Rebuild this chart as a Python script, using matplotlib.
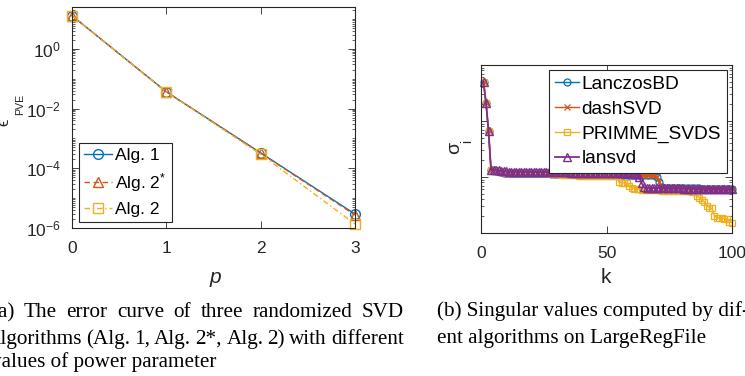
import numpy as np
import matplotlib
matplotlib.use("Agg")
import matplotlib.pyplot as plt
from matplotlib.ticker import LogLocator, NullFormatter, FixedLocator

plt.rcParams['font.family'] = ['Liberation Sans', 'DejaVu Sans']
plt.rcParams['mathtext.fontset'] = 'custom'
plt.rcParams['mathtext.rm'] = 'Liberation Sans'
plt.rcParams['mathtext.it'] = 'Liberation Sans:italic'
plt.rcParams['mathtext.default'] = 'regular'

# (a) error vs power parameter p
p = [0, 1, 2, 3]
err_alg1 = [12.8, 0.0362, 3.27e-4, 2.94e-6]
err_alg2s = [12.8, 0.0362, 3.20e-4, 2.72e-6]
err_alg2 = [12.8, 0.0358, 2.95e-4, 1.36e-6]

# (b) singular values on LargeRegFile, k = 1..100
k = np.arange(1, 101)
sv_lanczos = [49700, 20900, 6630, 1334, 1320, 1300, 1280, 1230, 1200, 1195,
              1190, 1188, 1185, 1183, 1180, 1178, 1176, 1174, 1172, 1170,
              1168, 1166, 1164, 1162, 1160, 1158, 1156, 1154, 1152, 1150,
              1148, 1146, 1144, 1142, 1140, 1138, 1136, 1134, 1132, 1130,
              1128, 1126, 1124, 1122, 1120, 1118, 1116, 1114, 1112, 1110,
              1108, 1106, 1104, 1102, 1100, 1098, 1096, 1094, 1092, 1090,
              1088, 1086, 1084, 1082, 1080, 1078, 1076, 1074, 1070, 1000,
              800, 660, 640, 638, 636, 635, 634, 633, 632, 631,
              630, 629, 628, 627, 626, 625, 624, 623, 622, 621,
              620, 619, 618, 617, 616, 615, 614, 613, 612, 611]
sv_dash = [49700, 20900, 6630, 1334, 1320, 1300, 1285, 1240, 1215, 1210,
           1205, 1203, 1200, 1198, 1196, 1194, 1192, 1190, 1188, 1186,
           1184, 1182, 1180, 1178, 1176, 1174, 1172, 1170, 1168, 1166,
           1164, 1162, 1160, 1158, 1156, 1154, 1152, 1150, 1148, 1146,
           1144, 1142, 1140, 1138, 1136, 1134, 1132, 1130, 1128, 1126,
           1124, 1122, 1120, 1118, 1116, 1114, 1112, 1110, 1108, 1106,
           1104, 1102, 1100, 1098, 1096, 1094, 1092, 1090, 1085, 1010,
           820, 670, 645, 642, 640, 638, 636, 634, 632, 631,
           630, 629, 628, 627, 626, 625, 624, 623, 622, 621,
           620, 619, 618, 617, 616, 615, 614, 613, 612, 611]
sv_primme = [49700, 20900, 6630, 1334, 1320, 1300, 1280, 1230, 1205, 1200,
             1196, 1193, 1190, 1187, 1184, 1181, 1178, 1175, 1172, 1170,
             1168, 1166, 1164, 1162, 1160, 1158, 1156, 1154, 1152, 1150,
             1148, 1080, 1075, 1072, 1070, 1068, 1066, 1064, 1062, 1060,
             1058, 1056, 1054, 1052, 1050, 1048, 1046, 1044, 1042, 1040,
             1038, 1036, 1034, 1030, 800, 790, 785, 780, 700, 640,
             620, 612, 600, 590, 588, 586, 584, 582, 580, 578,
             576, 574, 572, 570, 568, 566, 564, 562, 560, 558,
             556, 554, 552, 550, 545, 450, 430, 390, 360, 300,
             285, 275, 200, 188, 185, 183, 181, 179, 160, 152]
sv_lansvd = [49700, 20900, 6630, 1334, 1330, 1320, 1310, 1280, 1260, 1255,
             1252, 1250, 1248, 1246, 1244, 1242, 1240, 1238, 1236, 1234,
             1232, 1230, 1228, 1226, 1224, 1222, 1220, 1218, 1216, 1214,
             1212, 1210, 1208, 1206, 1204, 1202, 1200, 1198, 1196, 1194,
             1192, 1190, 1188, 1186, 1184, 1182, 1180, 1178, 1176, 1174,
             1172, 1170, 1168, 1166, 1164, 1162, 1160, 1158, 1156, 1154,
             1152, 1150, 1000, 780, 650, 640, 638, 636, 635, 634,
             633, 632, 631, 630, 629, 628, 627, 626, 625, 624,
             623, 622, 621, 620, 619, 618, 617, 616, 615, 614,
             613, 612, 611, 610, 609, 608, 607, 606, 605, 604]

blue = '#0072BD'
orange = '#D95319'
yellow = '#EDB120'
purple = '#7E2F8E'
dark = '#262626'

W, H = 745, 376
fig = plt.figure(figsize=(W / 100, H / 100), dpi=100)


def style_axes(ax, pad):
    for s in ax.spines.values():
        s.set_color(dark)
        s.set_linewidth(0.8)
    ax.tick_params(which='both', direction='in', top=True, right=True,
                   colors=dark, labelcolor=dark, labelsize=12.5, pad=pad)
    ax.tick_params(which='major', length=5, width=0.6)
    ax.tick_params(which='minor', length=2.5, width=0.5)


# ---- panel (a)
ax1 = fig.add_axes([72 / W, 1 - 228 / H, 283 / W, 221 / H])
ax1.semilogy(p, err_alg1, '-o', color=blue, mfc='none', ms=7, lw=1,
             clip_on=False, label='Alg. 1')
ax1.semilogy(p, err_alg2s, '--^', color=orange, mfc='none', ms=7, lw=1,
             dashes=(4, 2.5), clip_on=False, label='Alg. 2$^{*}$')
ax1.semilogy(p, err_alg2, '-.s', color=yellow, mfc='none', ms=7, lw=1,
             dashes=(4, 2, 1, 2), clip_on=False, label='Alg. 2')
ax1.set_xlim(0, 3)
ax1.set_ylim(1e-6, 25)
ax1.xaxis.set_major_locator(FixedLocator(p))
ax1.yaxis.set_major_locator(FixedLocator([1e-6, 1e-4, 1e-2, 1e0]))
ax1.yaxis.set_minor_locator(LogLocator(base=10, subs=np.arange(1, 10), numticks=20))
ax1.yaxis.set_minor_formatter(NullFormatter())
style_axes(ax1, 9)
ax1.tick_params(axis='y', pad=8)
leg1 = ax1.legend(loc='lower left', bbox_to_anchor=(79 / W, 1 - 222 / H),
                  bbox_transform=fig.transFigure, fontsize=12.5,
                  fancybox=False, framealpha=1, edgecolor=dark,
                  borderpad=0.3, labelspacing=0.45, handlelength=1.6,
                  handletextpad=0.2, borderaxespad=0)
leg1.get_frame().set_linewidth(0.8)

# axis labels
fig.text(215 / W, 1 - 283 / H, 'p', style='italic', fontsize=15,
         ha='center', va='baseline', color=dark)
fig.text(11 / W, 1 - 122 / H, '\u03f5', fontsize=12, rotation=90,
         ha='right', va='center', color=dark)
fig.text(25 / W, 1 - 104 / H, 'PVE', fontsize=7.7, rotation=90,
         ha='right', va='center', color=dark)

# ---- panel (b)
ax2 = fig.add_axes([481 / W, 1 - 233 / H, 251 / W, 168 / H])
ax2.semilogy(k, sv_lanczos, '-o', color=blue, mfc='none', ms=5, mew=0.9,
             lw=1, clip_on=False, label='LanczosBD')
ax2.semilogy(k, sv_dash, '-x', color=orange, ms=5, mew=0.9, lw=1,
             clip_on=False, label='dashSVD')
ax2.semilogy(k, sv_primme, '-s', color=yellow, mfc='none', ms=5, mew=0.9,
             lw=1, clip_on=False, label='PRIMME_SVDS')
ax2.semilogy(k, sv_lansvd, '-^', color=purple, mfc='none', ms=6, mew=1.0,
             lw=1.3, clip_on=False, label='lansvd')
ax2.set_xlim(0, 100)
ax2.set_ylim(100, 1e5)
ax2.xaxis.set_major_locator(FixedLocator([0, 50, 100]))
ax2.yaxis.set_minor_locator(LogLocator(base=10, subs=np.arange(2, 10), numticks=20))
ax2.yaxis.set_major_formatter(NullFormatter())
ax2.yaxis.set_minor_formatter(NullFormatter())
style_axes(ax2, 9)
leg2 = ax2.legend(loc='upper right', bbox_to_anchor=(727 / W, 1 - 70 / H),
                  bbox_transform=fig.transFigure, fontsize=13.8,
                  fancybox=False, framealpha=1, edgecolor=dark,
                  borderpad=0.3, labelspacing=0.38, handlelength=1.25,
                  handletextpad=0.15, borderaxespad=0)
leg2.get_frame().set_linewidth(0.8)

fig.text(606 / W, 1 - 283 / H, 'k', fontsize=15, ha='center',
         va='baseline', color=dark)
fig.text(463 / W, 1 - 148 / H, '\u03c3', fontsize=14, rotation=90,
         ha='right', va='center', color=dark)
fig.text(474 / W, 1 - 141 / H, 'i', fontsize=10, rotation=90,
         ha='right', va='center', color=dark)


# ---- captions
def justify(words, x0, x1, y, **kw):
    rend = fig.canvas.get_renderer()
    arts = [fig.text(0, 1 - y / H, w, va='baseline', **kw) for w in words]
    widths = [a.get_window_extent(rend).width for a in arts]
    gap = (x1 - x0 - sum(widths)) / (len(words) - 1)
    x = x0
    for a, w in zip(arts, widths):
        a.set_x(x / W)
        x += w + gap


cap = dict(family=['Liberation Serif', 'DejaVu Serif'], fontsize=15.2,
           color='black')
justify('(a) The error curve of three randomized SVD'.split(), -9, 404, 317, **cap)
justify('algorithms (Alg. 1, Alg. 2*, Alg. 2) with different'.split(), -9, 404, 344, **cap)
fig.text(-9 / W, 1 - 367 / H, 'values of power parameter', va='baseline', **cap)
fig.text(437 / W, 1 - 316 / H, '(b) Singular values computed by dif-',
         va='baseline', **cap)
fig.text(437 / W, 1 - 343 / H, 'ent algorithms on LargeRegFile',
         va='baseline', **cap)

fig.savefig('out.png', dpi=100)
